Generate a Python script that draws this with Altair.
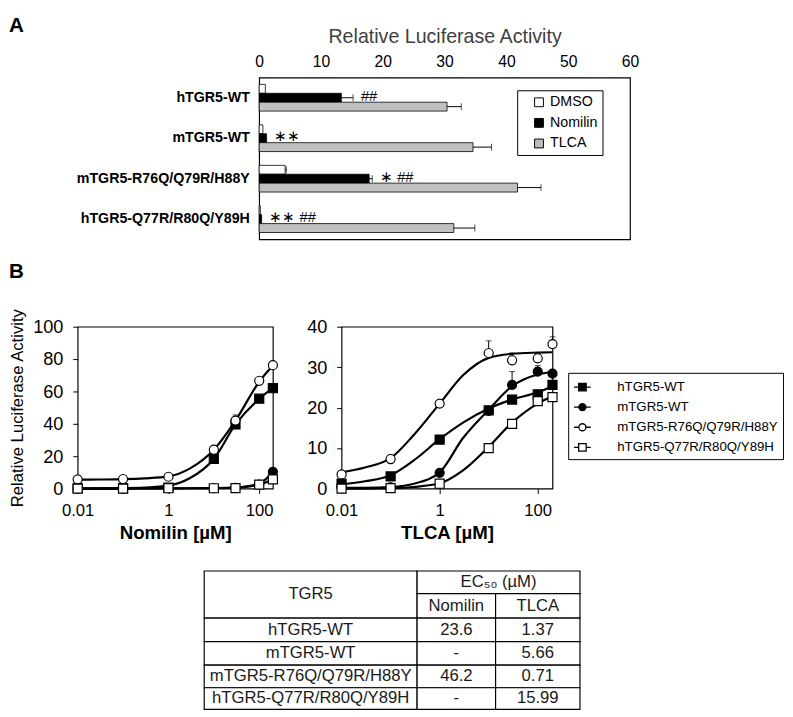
import altair as alt
import pandas as pd

FONT = "Liberation Sans"

# ---------------- Panel A data ----------------
categories = ["hTGR5-WT", "mTGR5-WT", "mTGR5-R76Q/Q79R/H88Y", "hTGR5-Q77R/R80Q/Y89H"]
treatments = ["DMSO", "Nomilin", "TLCA"]
treat_colors = ["#ffffff", "#000000", "#c0c0c0"]
dmso_vals = [1.0, 0.6, 4.2, 0.2]
dmso_err = [0.0, 0.0, 0.2, 0.0]
nomilin_vals = [13.3, 1.2, 17.8, 0.4]
nomilin_err = [1.9, 0.0, 0.5, 0.0]
tlca_vals = [30.4, 34.6, 41.8, 31.5]
tlca_err = [2.3, 3.0, 3.8, 3.4]
sig_labels = ["##", "\u2217\u2217", "\u2217  ##", "\u2217\u2217   ##"]

# ---------------- Panel B data ----------------
series = ["hTGR5-WT", "mTGR5-WT", "mTGR5-R76Q/Q79R/H88Y", "hTGR5-Q77R/R80Q/Y89H"]
series_shapes = ["square", "circle", "circle", "square"]
series_fills = ["black", "black", "white", "white"]
series_strokes = ["black", "black", "black", "black"]
conc_points = [0.01, 0.1, 1, 10, 30, 100, 200]
conc_fit = [0.01, 0.03, 0.1, 0.3, 1, 3, 10, 30, 100, 200]

# Nomilin measured points
nom_hwt = [0.2, 0.3, 0.6, 18.3, 39.6, 55.5, 62.0]
nom_mwt = [0.0, 0.0, 0.1, 0.2, 0.5, 2.5, 10.4]
nom_mmut = [5.7, 5.9, 7.3, 24.0, 42.0, 66.6, 76.2]
nom_hmut = [0.0, 0.0, 0.2, 0.2, 0.3, 2.4, 5.7]
nom_err_hwt = [0, 0, 0, 0, 0, 0, 0]
nom_err_mwt = [0, 0, 0, 0, 0, 0, 0]
nom_err_mmut = [0, 0, 0, 0, 3.5, 0, 0]
nom_err_hmut = [0, 0, 0, 0, 0, 0, 0]
# Nomilin fitted curves
nom_fit_hwt = [0.2, 0.2, 0.3, 0.6, 1.8, 6.5, 18.3, 39.6, 55.5, 62.0]
nom_fit_mwt = [0.0, 0.0, 0.0, 0.1, 0.1, 0.2, 0.3, 0.7, 3.0, 10.4]
nom_fit_mmut = [5.5, 5.6, 5.8, 6.3, 7.5, 12.5, 24.0, 42.0, 66.0, 76.0]
nom_fit_hmut = [0.0, 0.0, 0.0, 0.1, 0.2, 0.2, 0.3, 0.5, 2.4, 5.7]

# TLCA measured points
tl_hwt = [1.2, 3.0, 12.1, 19.3, 22.0, 23.3, 25.6]
tl_mwt = [0.3, 0.3, 3.9, 19.2, 25.6, 28.9, 28.4]
tl_mmut = [3.5, 7.3, 21.0, 33.5, 31.7, 32.2, 35.7]
tl_hmut = [0.0, 0.1, 1.2, 10.0, 16.0, 21.6, 22.6]
tl_err_hwt = [0, 0, 0, 0, 0, 0.6, 0]
tl_err_mwt = [0, 0, 0, 0, 3.3, 1.5, 0]
tl_err_mmut = [0, 0, 0, 3.0, 1.8, 1.0, 1.8]
tl_err_hmut = [0, 0, 0, 0, 0, 0, 0]
# TLCA fitted curves
tl_fit_hwt = [1.0, 1.8, 3.3, 7.0, 12.2, 16.3, 19.8, 22.0, 23.8, 25.3]
tl_fit_mwt = [0.2, 0.2, 0.4, 1.2, 4.0, 12.5, 19.5, 25.3, 28.2, 28.8]
tl_fit_mmut = [4.0, 5.2, 7.5, 13.3, 21.0, 28.0, 32.3, 33.3, 33.6, 33.7]
tl_fit_hmut = [0.0, 0.0, 0.1, 0.4, 1.3, 4.5, 10.3, 16.3, 21.0, 22.8]

# ---------------- Table data ----------------
table_header = ["TGR5", "EC\u2085\u2080 (\u00b5M)", "Nomilin", "TLCA"]
ec50_nomilin = ["23.6", "-", "46.2", "-"]
ec50_tlca = ["1.37", "5.66", "0.71", "15.99"]
col_edges = [0, 217, 297, 383]
row_edges = [0, 23, 48, 72, 96, 119, 141]

# legend symbols with side lines (custom SVG paths)
sq_path = "M-1,0H-0.45M0.45,0H1M-0.45,-0.45H0.45V0.45H-0.45Z"
ci_path = "M-1,0H-0.42M0.42,0H1M0.42,0A0.42,0.42,0,1,1,-0.42,0A0.42,0.42,0,1,1,0.42,0Z"
legend_paths = [sq_path, ci_path, ci_path, sq_path]

# ======================= Panel A =======================
rowsA = []
for i, c in enumerate(categories):
    for t, vals, errs in [("DMSO", dmso_vals, dmso_err), ("Nomilin", nomilin_vals, nomilin_err),
                          ("TLCA", tlca_vals, tlca_err)]:
        rowsA.append({"category": c, "treatment": t, "value": vals[i], "err": errs[i],
                      "end": vals[i] + errs[i]})
dfA = pd.DataFrame(rowsA)
dfAerr = dfA[dfA["err"] > 0]
dfAnn = pd.DataFrame({"category": categories, "treatment": ["Nomilin"] * 4,
                      "end": [nomilin_vals[i] + nomilin_err[i] for i in range(4)],
                      "label": sig_labels})

axA_x = alt.Axis(orient="top", values=[0, 10, 20, 30, 40, 50, 60], title="Relative Luciferase Activity",
                 titleFontSize=20, titleFontWeight="normal", titleColor="#404040",
                 labelFontSize=16, labelColor="black", ticks=False, labelPadding=8,
                 titlePadding=8, grid=False, domain=False, labelFlush=False)
scA_x = alt.Scale(domain=[0, 60], nice=False)
yA = alt.Y("category:N", scale=alt.Scale(domain=categories, paddingInner=0.34, paddingOuter=0.17),
           axis=alt.Axis(title=None, labelFontWeight="bold", labelFontSize=14.5, labelColor="black",
                         ticks=False, domain=False, labelPadding=10, labelLimit=400))
yOffA = alt.YOffset("treatment:N", scale=alt.Scale(domain=treatments))

legA = alt.Legend(orient="none", legendX=263, legendY=13, title=None, strokeColor="black",
                  fillColor="white", padding=5, symbolType="square", symbolSize=81,
                  symbolStrokeColor="black", symbolStrokeWidth=1, labelFontSize=14.5,
                  labelColor="black", labelOffset=4, symbolOffset=10, rowPadding=6,
                  labelExpr="datum.label + '   '")

bars = alt.Chart(dfA).mark_bar(stroke="black", strokeWidth=0.8).encode(
    x=alt.X("value:Q", scale=scA_x, axis=axA_x),
    y=yA, yOffset=yOffA,
    fill=alt.Fill("treatment:N", scale=alt.Scale(domain=treatments, range=treat_colors), legend=legA),
)
errA = alt.Chart(dfAerr).mark_rule(color="black", strokeWidth=1).encode(
    x=alt.X("value:Q", scale=scA_x, axis=axA_x), x2="end:Q", y=yA, yOffset=yOffA)
capA = alt.Chart(dfAerr).mark_tick(color="black", thickness=1, size=7).encode(
    x=alt.X("end:Q", scale=scA_x, axis=axA_x), y=yA, yOffset=yOffA)
annA = alt.Chart(dfAnn).mark_text(align="left", baseline="middle", dx=8, dy=-2, fontSize=15,
                                  color="black").encode(
    x=alt.X("end:Q", scale=scA_x, axis=axA_x), y=yA, yOffset=yOffA, text="label:N")

chartA = alt.layer(bars, errA, capA, annA).properties(width=378, height=165)

spacerA = alt.Chart(pd.DataFrame({"v": [0]})).mark_point(opacity=0, size=1).properties(
    width=1, height=165,
    title=alt.TitleParams("A", anchor="start", frame="group", dx=-70, offset=42, fontSize=21,
                          fontWeight="bold", color="black"),
    view=alt.ViewBackground(stroke="transparent"),
)

# ======================= Panel B =======================
def long_df(values_list, errs_list, xs):
    rows = []
    for s, vals, errs in zip(series, values_list, errs_list):
        for x, v, e in zip(xs, vals, errs):
            rows.append({"series": s, "conc": x, "value": v, "err": e, "top": v + e})
    return pd.DataFrame(rows)

zeros10 = [[0] * 10] * 4
nom_pts = long_df([nom_hwt, nom_mwt, nom_mmut, nom_hmut],
                  [nom_err_hwt, nom_err_mwt, nom_err_mmut, nom_err_hmut], conc_points)
nom_fit = long_df([nom_fit_hwt, nom_fit_mwt, nom_fit_mmut, nom_fit_hmut], zeros10, conc_fit)
tl_pts = long_df([tl_hwt, tl_mwt, tl_mmut, tl_hmut],
                 [tl_err_hwt, tl_err_mwt, tl_err_mmut, tl_err_hmut], conc_points)
tl_fit = long_df([tl_fit_hwt, tl_fit_mwt, tl_fit_mmut, tl_fit_hmut], zeros10, conc_fit)


def dose_panel(pts, fit, xtitle, ymax, ystep, ytitle, width, with_legend):
    sx = alt.Scale(type="log", domain=[0.01, 200], nice=False)
    sy = alt.Scale(domain=[0, ymax], nice=False)
    ax_x = alt.Axis(values=[0.01, 1, 100], format="~g", title=xtitle, titleFontSize=19,
                    titleFontWeight="bold", titleColor="black", labelFontSize=17, labelColor="black",
                    tickSize=5, tickColor="black", labelPadding=9, titlePadding=6, grid=False,
                    domain=False, labelFlush=False)
    ax_y = alt.Axis(values=list(range(0, ymax + 1, ystep)), title=ytitle, titleFontSize=17,
                    titleFontWeight="normal", titleColor="black", labelFontSize=18.5,
                    labelColor="black", tickSize=5, tickColor="black", labelPadding=10,
                    titlePadding=6, grid=False, domain=False)
    X = alt.X("conc:Q", scale=sx, axis=ax_x)
    Y = alt.Y("value:Q", scale=sy, axis=ax_y)
    errs = pts[pts["err"] > 0]
    rule = alt.Chart(errs).mark_rule(color="black", strokeWidth=1).encode(x=X, y=Y, y2="top:Q")
    cap = alt.Chart(errs).mark_tick(color="black", thickness=1, size=6, orient="horizontal").encode(
        x=X, y=alt.Y("top:Q", scale=sy, axis=ax_y))
    line = alt.Chart(fit).mark_line(interpolate="monotone", color="black", strokeWidth=2.2).encode(
        x=X, y=Y, detail="series:N")
    pts_layer = alt.Chart(pts).mark_point(filled=True, size=85, stroke="black", strokeWidth=1.2,
                                          opacity=1).encode(
        x=X, y=Y,
        shape=alt.Shape("series:N", scale=alt.Scale(domain=series, range=series_shapes), legend=None),
        fill=alt.Fill("series:N", scale=alt.Scale(domain=series, range=series_fills), legend=None),
    )
    layers = [rule, cap, line, pts_layer]
    if with_legend:
        legB = alt.Legend(orient="none", legendX=231, legendY=47, title=None, strokeColor="black",
                          fillColor="white", padding=5, symbolSize=289, symbolStrokeWidth=1.3,
                          symbolStrokeColor="black", labelFontSize=13.5, labelColor="black",
                          labelOffset=26, rowPadding=4.5, labelLimit=300, symbolOpacity=1,
                          labelExpr="datum.label + '   '")
        leg_layer = alt.Chart(pts).transform_filter("false").mark_point(
            filled=True, size=289, strokeWidth=1.3, opacity=1).encode(
            x=X, y=Y,
            shape=alt.Shape("series:N", scale=alt.Scale(domain=series, range=legend_paths), legend=legB),
            fill=alt.Fill("series:N", scale=alt.Scale(domain=series, range=series_fills), legend=legB),
            stroke=alt.Stroke("series:N", scale=alt.Scale(domain=series, range=series_strokes),
                              legend=legB),
        )
        layers.append(leg_layer)
    ch = alt.layer(*layers).resolve_scale(shape="independent", fill="independent",
                                          stroke="independent")
    return ch.properties(width=width, height=165)


leftB = dose_panel(nom_pts, nom_fit, "Nomilin [\u00b5M]", 100, 20, "Relative Luciferase Activity",
                   199, False).properties(
    title=alt.TitleParams("B", anchor="start", frame="group", dx=-70, offset=27, fontSize=21,
                          fontWeight="bold", color="black"))
rightB = dose_panel(tl_pts, tl_fit, "TLCA [\u00b5M]", 40, 10, None, 215, True)

rowB = alt.hconcat(leftB, rightB, spacing=25).resolve_scale(shape="independent", fill="independent",
                                                            stroke="independent")

# ======================= Table =======================
cells = [
    {"text": table_header[0], "x0": col_edges[0], "x1": col_edges[1], "y0": row_edges[0], "y1": row_edges[2]},
    {"text": table_header[1], "x0": col_edges[1], "x1": col_edges[3], "y0": row_edges[0], "y1": row_edges[1]},
    {"text": table_header[2], "x0": col_edges[1], "x1": col_edges[2], "y0": row_edges[1], "y1": row_edges[2]},
    {"text": table_header[3], "x0": col_edges[2], "x1": col_edges[3], "y0": row_edges[1], "y1": row_edges[2]},
]
for i, name in enumerate(categories):
    vals = [name, ec50_nomilin[i], ec50_tlca[i]]
    for j in range(3):
        cells.append({"text": vals[j], "x0": col_edges[j], "x1": col_edges[j + 1],
                      "y0": row_edges[i + 2], "y1": row_edges[i + 3]})
dfT = pd.DataFrame(cells)
dfT["xm"] = (dfT["x0"] + dfT["x1"]) / 2
dfT["ym"] = (dfT["y0"] + dfT["y1"]) / 2

sTx = alt.Scale(domain=[-129, 383], nice=False, zero=False)
sTy = alt.Scale(domain=[-7, 141], nice=False, zero=False, reverse=True)
tRect = alt.Chart(dfT).mark_rect(fill="white", stroke="black", strokeWidth=1.2).encode(
    x=alt.X("x0:Q", scale=sTx, axis=None), x2="x1:Q",
    y=alt.Y("y0:Q", scale=sTy, axis=None), y2="y1:Q")
tText = alt.Chart(dfT).mark_text(fontSize=17, color="#1a1a1a", baseline="middle").encode(
    x=alt.X("xm:Q", scale=sTx, axis=None), y=alt.Y("ym:Q", scale=sTy, axis=None), text="text:N")
table = alt.layer(tRect, tText).properties(width=512, height=148,
                                          view=alt.ViewBackground(stroke="transparent"))

# ======================= Assemble =======================
rowA = alt.hconcat(spacerA, chartA, spacing=-5).resolve_scale(fill="independent")

chart = alt.vconcat(rowA, rowB, table, spacing=20).resolve_scale(
    fill="independent", shape="independent", stroke="independent"
).properties(
    padding={"left": 0, "top": 0, "right": 0, "bottom": 0}
).configure(font=FONT).configure_view(stroke="black", strokeWidth=1.2)

chart.save("out.html", embed_options={"renderer": "svg", "actions": False})
